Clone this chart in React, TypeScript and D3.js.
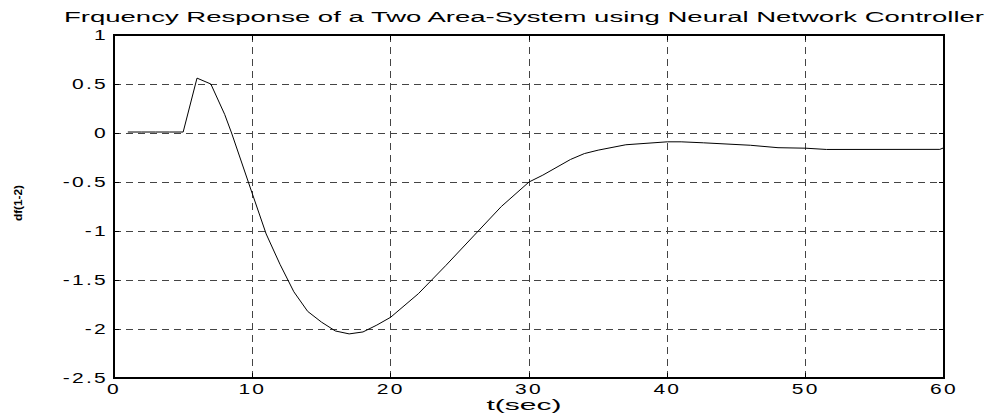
import React from "react";
import * as d3 from "d3";

// samples
const timeSec = [1, 2, 3, 4, 5, 6, 7, 8, 8.5, 10, 11, 12, 13, 14, 15, 16, 17, 18, 19, 20, 22, 24, 26, 28, 30, 31, 33, 34, 35, 37, 40, 41, 42.6, 46, 48, 50, 51.5, 59.7, 60];
const dfValues = [0.01, 0.01, 0.01, 0.01, 0.01, 0.56, 0.5, 0.19, 0.0, -0.62, -1.03, -1.34, -1.62, -1.82, -1.93, -2.02, -2.05, -2.03, -1.96, -1.88, -1.64, -1.35, -1.05, -0.75, -0.5, -0.43, -0.27, -0.21, -0.175, -0.12, -0.09, -0.09, -0.1, -0.125, -0.15, -0.155, -0.168, -0.167, -0.15];

const xTicks = [0, 10, 20, 30, 40, 50, 60];
const yTicks = [1, 0.5, 0, -0.5, -1, -1.5, -2, -2.5];

const titleText = "Frquency Response of a Two Area-System using Neural Network Controller";
const xLabel = "t(sec)";
const yLabel = "df(1-2)";

const W = 999;
const H = 418;
const left = 114, right = 944, top = 35, bottom = 378;

export default function App() {
  const x = d3.scaleLinear().domain([0, 60]).range([left, right]);
  const y = d3.scaleLinear().domain([-2.5, 1]).range([bottom, top]);

  const pts: [number, number][] = timeSec.map((t, i) => [t, dfValues[i]]);
  const line = d3.line<[number, number]>()
    .x(d => x(d[0]))
    .y(d => y(d[1]));

  const font = "'Liberation Sans', Arial, sans-serif";
  const fmt = (v: number) => (v === 0 ? "0" : String(v));

  // matlab's old renderer draws text wide, so stretch it a bit
  return (
    <svg width={W} height={H} style={{ position: "absolute", left: 0, top: 0, background: "#fff" }}
      fontFamily={font}>
      <rect width={W} height={H} fill="#fff" />

      {/* grid */}
      <g stroke="#444" strokeWidth={1} strokeDasharray="7,5" shapeRendering="crispEdges">
        {xTicks.slice(1, -1).map(t => (
          <line key={"gx" + t} x1={x(t)} x2={x(t)} y1={top} y2={bottom} />
        ))}
        {yTicks.slice(1, -1).map(t => (
          <line key={"gy" + t} x1={left} x2={right} y1={y(t)} y2={y(t)} />
        ))}
      </g>

      {/* ticks inside the box */}
      <g stroke="#000" strokeWidth={1} shapeRendering="crispEdges">
        {xTicks.map(t => (
          <g key={"tx" + t}>
            <line x1={x(t)} x2={x(t)} y1={bottom} y2={bottom - 5} />
            <line x1={x(t)} x2={x(t)} y1={top} y2={top + 5} />
          </g>
        ))}
        {yTicks.map(t => (
          <g key={"ty" + t}>
            <line x1={left} x2={left + 5} y1={y(t)} y2={y(t)} />
            <line x1={right} x2={right - 5} y1={y(t)} y2={y(t)} />
          </g>
        ))}
      </g>

      {/* box */}
      <rect x={left} y={top} width={right - left} height={bottom - top}
        fill="none" stroke="#000" strokeWidth={1.3} shapeRendering="crispEdges" />

      {/* curve */}
      <path d={line(pts) || ""} fill="none" stroke="#000" strokeWidth={1} />

      {/* tick labels */}
      <g fontSize={14} fill="#000" letterSpacing={1.5}>
        {xTicks.map(t => (
          <text key={"lx" + t} transform={`translate(${x(t)},${bottom + 16}) scale(1.5,1)`}
            textAnchor="middle">{fmt(t)}</text>
        ))}
        {yTicks.map(t => (
          <text key={"ly" + t} transform={`translate(${left - 6},${y(t) + 5}) scale(1.5,1)`}
            textAnchor="end">{fmt(t)}</text>
        ))}
      </g>

      <text x={524} y={22} fontSize={15.5} textAnchor="middle" textLength={920}
        lengthAdjust="spacingAndGlyphs">{titleText}</text>
      <text x={524} y={410} fontSize={15} textAnchor="middle" textLength={75}
        lengthAdjust="spacingAndGlyphs">{xLabel}</text>
      <text transform="translate(22,203) rotate(-90)" fontSize={11} fontWeight="bold"
        textAnchor="middle" textLength={36} lengthAdjust="spacingAndGlyphs">{yLabel}</text>
    </svg>
  );
}
